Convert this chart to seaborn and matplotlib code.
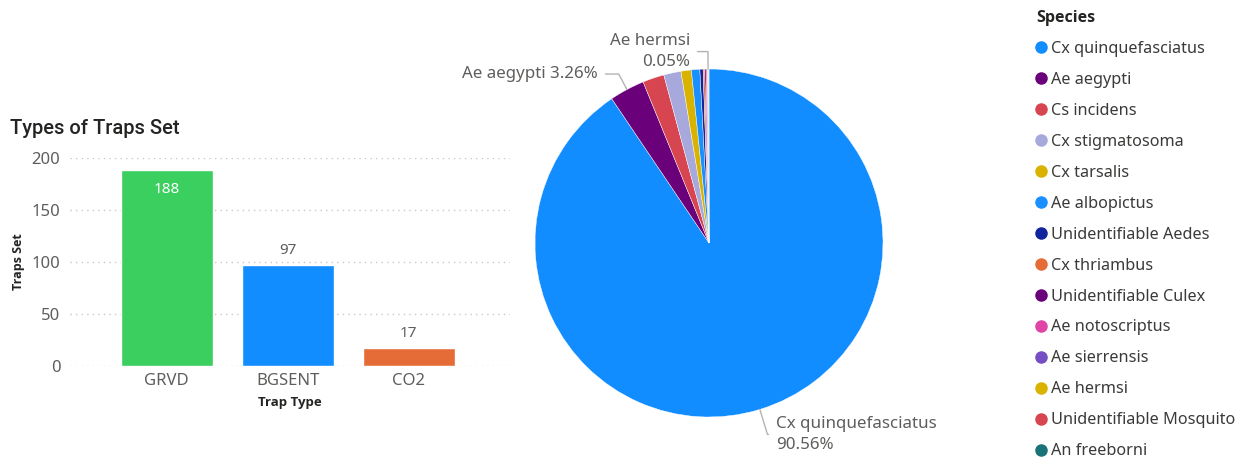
import math
import matplotlib
matplotlib.use("Agg")
import matplotlib.pyplot as plt
from matplotlib.lines import Line2D
import pandas as pd
import seaborn as sns

# Bar chart data
trap_types = ["GRVD", "BGSENT", "CO2"]
traps_set = [188, 97, 17]
trap_colors = ["#3ACF5F", "#118DFF", "#E66C37"]

# Pie chart data (percent of catch)
species = [
    "Cx quinquefasciatus", "Ae aegypti", "Cs incidens", "Cx stigmatosoma",
    "Cx tarsalis", "Ae albopictus", "Unidentifiable Aedes", "Cx thriambus",
    "Unidentifiable Culex", "Ae notoscriptus", "Ae sierrensis", "Ae hermsi",
    "Unidentifiable Mosquito", "An freeborni",
]
species_pct = [90.56, 3.26, 2.0, 1.6, 0.96, 0.78, 0.3, 0.15, 0.12, 0.1, 0.06, 0.05, 0.04, 0.02]
species_colors = [
    "#118DFF", "#6B007B", "#D64550", "#A7A9DC", "#D9B300", "#1A90FF", "#12239E",
    "#E66C37", "#6B007B", "#E044A7", "#744EC2", "#D9B300", "#D64550", "#197278",
]

TEXT = "#605E5C"
DARK = "#252423"
BOLD_FONT = ["Open Sans", "DejaVu Sans"]
W, H = 1255, 457

sns.set_theme(style="white")
plt.rcParams["font.family"] = ["Noto Sans", "DejaVu Sans"]

fig = plt.figure(figsize=(W / 100, H / 100), dpi=100)

# --- Bar chart ---
ax_bar = fig.add_axes([70 / W, 1 - 366 / H, 440 / W, 208 / H])
df = pd.DataFrame({"Trap Type": trap_types, "Traps Set": traps_set})
sns.barplot(data=df, x="Trap Type", y="Traps Set", hue="Trap Type",
            palette=trap_colors, saturation=1, width=0.76, legend=False, ax=ax_bar)
ax_bar.set_ylim(0, 200)
ax_bar.set_xlim(-0.80, 2.836)
ax_bar.set_yticks(range(0, 201, 50))
ax_bar.yaxis.grid(True, linestyle=(0, (1, 3)), color="#C8C8C8", lw=1)
ax_bar.set_axisbelow(True)
sns.despine(ax=ax_bar, left=True, bottom=True)
ax_bar.tick_params(axis="both", length=0, labelsize=12, labelcolor=TEXT)
ax_bar.tick_params(axis="y", pad=7)
ax_bar.tick_params(axis="x", pad=5)
ax_bar.set_xlabel("Trap Type", fontsize=9.5, fontweight="bold", color=DARK,
                  labelpad=5, family=BOLD_FONT)
ax_bar.set_ylabel("Traps Set", fontsize=9, fontweight="bold", color=DARK,
                  labelpad=5, family=BOLD_FONT)

top = max(traps_set)
for i, v in enumerate(traps_set):
    if v == top:
        ax_bar.annotate(str(v), (i, v), xytext=(0, -14), textcoords="offset points",
                        ha="center", va="center", color="white", fontsize=11)
    else:
        ax_bar.annotate(str(v), (i, v), xytext=(0, 5), textcoords="offset points",
                        ha="center", va="bottom", color=TEXT, fontsize=11)

fig.text(10 / W, 1 - 128 / H, "Types of Traps Set", fontsize=14.5, color=DARK,
         va="center", ha="left", fontweight="medium", family=["Roboto", "DejaVu Sans"])

# --- Pie chart ---
ax_pie = fig.add_axes([535 / W, 1 - 417 / H, 348 / W, 348 / H])
wedges, _ = ax_pie.pie(species_pct, colors=species_colors, startangle=90,
                       counterclock=False, radius=1,
                       wedgeprops=dict(linewidth=0.3, edgecolor="white"))
ax_pie.set_xlim(-1, 1)
ax_pie.set_ylim(-1, 1)
ax_pie.set_aspect("equal")

# (index, label text, text position, alignment)
pie_labels = [
    (0, "Cx quinquefasciatus\n90.56%", (0.385, -1.10), "left"),
    (1, "Ae aegypti 3.26%", (-0.638, 0.971), "right"),
    (11, "Ae hermsi\n0.05%", (-0.109, 1.10), "right"),
]
for idx, txt, pos, ha in pie_labels:
    w = wedges[idx]
    mid = (w.theta1 + w.theta2) / 2
    xy = (math.cos(math.radians(mid)), math.sin(math.radians(mid)))
    ax_pie.annotate(txt, xy=xy, xytext=pos, ha=ha, va="center", color=TEXT,
                    fontsize=12.2, linespacing=1.42, annotation_clip=False,
                    arrowprops=dict(arrowstyle="-", color="#B3B3B3", lw=1,
                                    shrinkA=3, shrinkB=0,
                                    connectionstyle=f"angle,angleA=0,angleB={mid},rad=0"))

# --- Legend ---
handles = [Line2D([], [], marker="o", ls="none", color=c, markersize=8) for c in species_colors]
leg = fig.legend(handles, species, loc="upper left", bbox_to_anchor=(1036 / W, 1 - 10 / H),
                 frameon=False, title="Species", alignment="left", fontsize=11.7,
                 title_fontproperties={"weight": "bold", "size": 11.5, "family": BOLD_FONT},
                 handlelength=0.6, handletextpad=0.3, labelspacing=0.92,
                 borderpad=0, borderaxespad=0)
leg.get_title().set_color(DARK)
for t in leg.get_texts():
    t.set_color("#3B3A39")

fig.savefig("out.png", dpi=100)
